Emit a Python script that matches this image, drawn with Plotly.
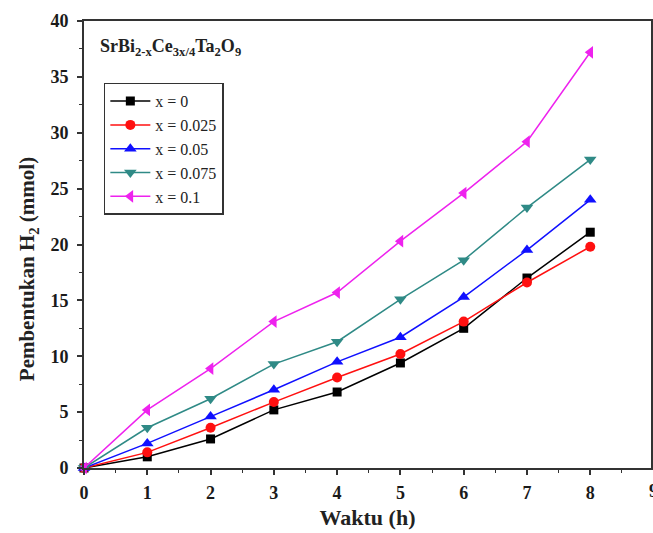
import plotly.graph_objects as go

time_h = [0, 1, 2, 3, 4, 5, 6, 7, 8]
labels = ["x = 0", "x = 0.025", "x = 0.05", "x = 0.075", "x = 0.1"]
h2_x0 = [0, 1.0, 2.6, 5.2, 6.8, 9.4, 12.5, 17.0, 21.1]
h2_x0025 = [0, 1.4, 3.6, 5.9, 8.1, 10.2, 13.1, 16.6, 19.8]
h2_x005 = [0, 2.2, 4.6, 7.0, 9.5, 11.7, 15.3, 19.5, 24.0]
h2_x0075 = [0, 3.6, 6.2, 9.3, 11.3, 15.1, 18.6, 23.3, 27.6]
h2_x01 = [0, 5.2, 8.9, 13.1, 15.7, 20.3, 24.6, 29.2, 37.2]

series = [h2_x0, h2_x0025, h2_x005, h2_x0075, h2_x01]
colors = ["#000000", "#ff1010", "#1010ff", "#2f8a86", "#ee22ee"]
symbols = ["square", "circle", "triangle-up", "triangle-down", "triangle-left"]
sizes = [9, 10, 11, 11, 11]

FONT = "Liberation Serif, Times New Roman, serif"

fig = go.Figure()
for lab, ys, c, s, sz in zip(labels, series, colors, symbols, sizes):
    fig.add_trace(go.Scatter(
        x=time_h, y=ys, name=lab, mode="lines+markers",
        line=dict(color=c, width=1.5),
        marker=dict(symbol=s, size=sz, color=c),
        cliponaxis=False,
    ))

axis_common = dict(
    showgrid=False, zeroline=False, showline=True, linecolor="#333333",
    linewidth=1.8, mirror=True, ticks="outside", ticklen=5, tickwidth=1.5,
    tickcolor="#333333",
    tickfont=dict(family=FONT, size=18, color="#1a1a1a", weight="bold"),
    minor=dict(ticks="outside", ticklen=3, tickwidth=1.2, tickcolor="#333333"),
)

fig.update_layout(
    width=653, height=533,
    margin=dict(l=84, r=0, t=21, b=65),
    paper_bgcolor="white", plot_bgcolor="white",
    font=dict(family=FONT, color="#222222"),
    xaxis=dict(range=[0, 8.96], dtick=1, tick0=0,
               minor_dtick=0.5, ticklabelstandoff=2,
               title=dict(text="Waktu (h)", standoff=8,
                          font=dict(family=FONT, size=22, weight="bold")),
               **axis_common),
    yaxis=dict(range=[0, 40], dtick=5, tick0=0,
               minor_dtick=2.5, ticklabelstandoff=5,
               **axis_common),
    legend=dict(x=0.035, y=0.862, xanchor="left", yanchor="top",
                bordercolor="#333333", borderwidth=1.5, bgcolor="white",
                font=dict(family=FONT, size=16, color="#222222"),
                tracegroupgap=0, itemwidth=40),
    showlegend=True,
)

fig.add_annotation(
    xref="paper", yref="paper", x=(28 - 84) / 569, y=(468 - 269) / 447,
    xanchor="center", yanchor="middle", textangle=-90,
    text="Pembentukan H<sub>2</sub> (mmol)", showarrow=False,
    font=dict(family=FONT, size=21, color="#222222", weight="bold"),
)
fig.add_annotation(
    xref="paper", yref="paper", x=0.024, y=0.94, xanchor="left", yanchor="middle",
    text="SrBi<sub>2-x</sub>Ce<sub>3x/4</sub>Ta<sub>2</sub>O<sub>9</sub>",
    showarrow=False, font=dict(family=FONT, size=18, color="#222222", weight="bold"),
)
fig.add_annotation(
    xref="paper", yref="paper", x=9 / 8.96, y=0, yshift=-23, xanchor="center",
    yanchor="middle", text="9", showarrow=False,
    font=dict(family=FONT, size=18, color="#1a1a1a", weight="bold"),
)

fig.write_html("out.html")
